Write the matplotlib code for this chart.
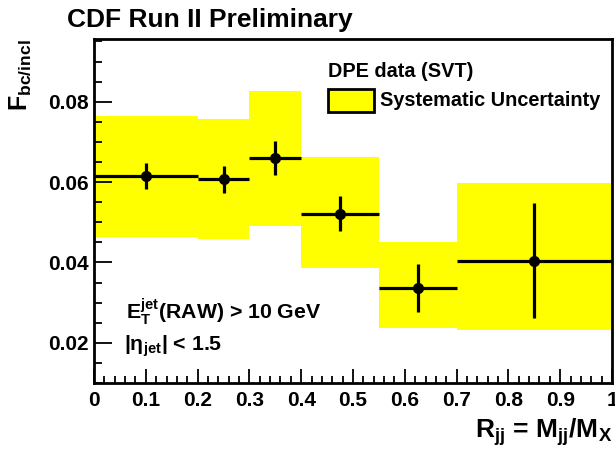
import matplotlib
matplotlib.use("Agg")
import matplotlib.pyplot as plt
from matplotlib.patches import Rectangle
from matplotlib.ticker import MultipleLocator, FormatStrFormatter
import numpy as np

# ---- data ----
bin_edges = [0.0, 0.2, 0.3, 0.4, 0.55, 0.7, 1.0]
values = [0.0615, 0.0607, 0.0660, 0.0521, 0.0337, 0.0404]
stat_err = [0.0033, 0.0034, 0.0042, 0.0044, 0.0060, 0.0143]
syst_low = [0.0464, 0.0459, 0.0491, 0.0387, 0.0238, 0.0233]
syst_high = [0.0764, 0.0758, 0.0827, 0.0662, 0.0452, 0.0597]

title = "CDF Run II Preliminary"
legend_header = "DPE data (SVT)"
legend_entry = "Systematic Uncertainty"

plt.rcParams['font.family'] = ['Liberation Sans', 'DejaVu Sans']
plt.rcParams['font.weight'] = 'bold'
plt.rcParams['mathtext.fontset'] = 'custom'
plt.rcParams['mathtext.rm'] = 'Liberation Sans'
plt.rcParams['mathtext.it'] = 'Liberation Sans:bold'
plt.rcParams['mathtext.bf'] = 'Liberation Sans:bold'
plt.rcParams['mathtext.default'] = 'it'

W, H = 615, 454
fig = plt.figure(figsize=(W / 100, H / 100), dpi=100)

def fx(px):
    return px / W

def fy(py):
    return 1 - py / H

ax = fig.add_axes([fx(94), fy(383), fx(612) - fx(94), fy(39) - fy(383)])

edges = np.array(bin_edges)
lefts = edges[:-1]
widths = np.diff(edges)
centers = lefts + widths / 2
lo = np.array(syst_low)
hi = np.array(syst_high)

ax.bar(lefts, hi - lo, bottom=lo, width=widths, align='edge',
       color='#ffff00', linewidth=0, zorder=1)
ax.errorbar(centers, values, xerr=widths / 2, yerr=stat_err, fmt='o',
            color='black', markersize=7, elinewidth=2.3, capsize=0, zorder=3)

ax.set_xlim(0, 1)
ax.set_ylim(0.01, 0.0956)
ax.xaxis.set_major_locator(MultipleLocator(0.1))
ax.xaxis.set_minor_locator(MultipleLocator(0.02))
ax.yaxis.set_major_locator(MultipleLocator(0.02))
ax.yaxis.set_minor_locator(MultipleLocator(0.005))
ax.xaxis.set_major_formatter(matplotlib.ticker.FuncFormatter(
    lambda v, p: '0' if abs(v) < 1e-9 else ('1' if abs(v - 1) < 1e-9 else f'{v:.1f}')))
ax.yaxis.set_major_formatter(FormatStrFormatter('%.2f'))

ax.tick_params(axis='both', which='both', direction='in', top=False, right=False,
               labelsize=15, width=1.3)
ax.tick_params(axis='y', which='major', length=13, pad=4)
ax.tick_params(axis='y', which='minor', length=6)
ax.tick_params(axis='x', which='major', length=10, pad=6)
ax.tick_params(axis='x', which='minor', length=5)
for lab in ax.get_xticklabels() + ax.get_yticklabels():
    lab.set_fontweight('bold')
for s in ax.spines.values():
    s.set_linewidth(2)

# title
fig.text(fx(67), fy(26.5), title, fontsize=19, fontweight='bold',
         ha='left', va='baseline')

# axis labels
fig.text(fx(33), fy(39), r'$\mathbf{F}_{\mathbf{bc/incl}}$', fontsize=18,
         rotation=90, ha='right', va='top')
fig.text(fx(612), fy(438), r'R$_{\mathbf{jj}}$ = M$_{\mathbf{jj}}$/M$_{\mathbf{X}}$',
         fontsize=19, fontweight='bold', ha='right', va='baseline')

# legend
fig.text(fx(328), fy(77), legend_header, fontsize=14.3, fontweight='bold',
         ha='left', va='baseline')
fig.patches.append(Rectangle((fx(328), fy(112)), fx(374) - fx(328), fy(89) - fy(112),
                             transform=fig.transFigure, facecolor='#ffff00',
                             edgecolor='black', linewidth=2, figure=fig))
fig.text(fx(380), fy(106.5), legend_entry, fontsize=14.3, fontweight='bold',
         ha='left', va='baseline')

# annotations
fig.text(fx(126), fy(319), r'E$_{\mathbf{T}}^{\mathbf{jet}}$(RAW) > 10 GeV',
         fontsize=15.3, fontweight='bold', ha='left', va='baseline')
fig.text(fx(124), fy(351), r'|$\mathrm{\eta}_{\mathbf{jet}}$| < 1.5',
         fontsize=15.3, fontweight='bold', ha='left', va='baseline')

fig.savefig('out.png', dpi=100)
